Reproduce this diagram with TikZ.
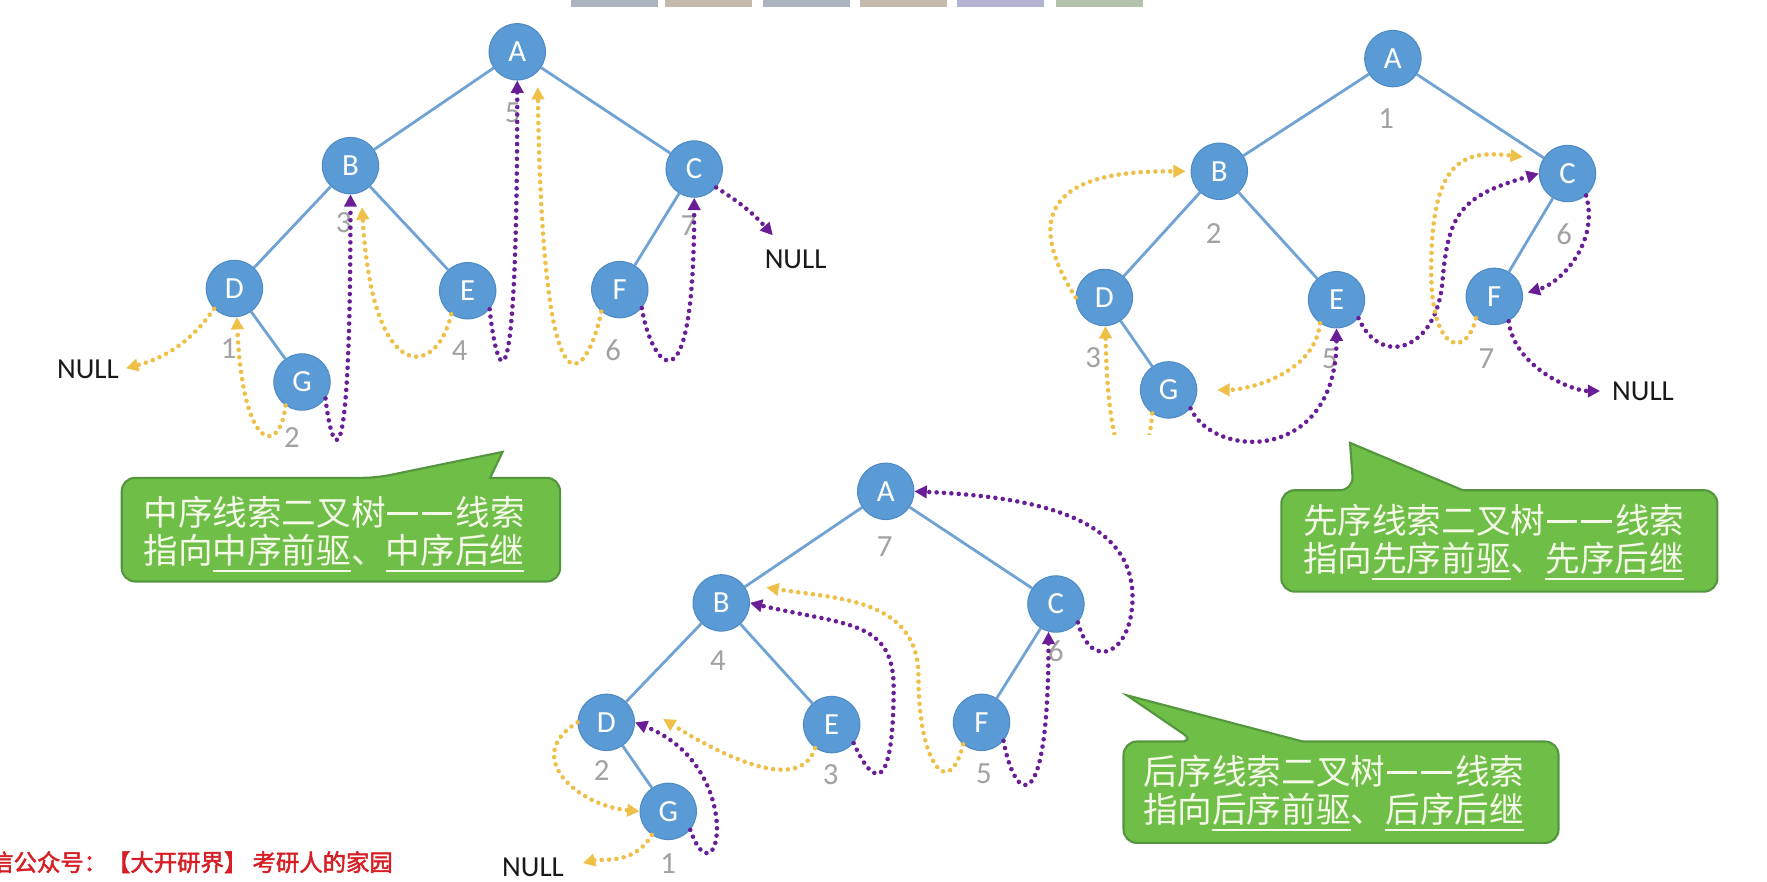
\documentclass[tikz,border=0pt]{standalone}
\usepackage{fontspec}
\setmainfont{Carlito}
\newfontfamily\cjkfont{Noto Sans CJK SC}
\newfontfamily\markfont[FakeBold=2]{Noto Sans CJK SC}
\usetikzlibrary{arrows.meta}

\definecolor{nodeblue}{RGB}{91,155,213}
\definecolor{nodeborder}{RGB}{78,138,198}
\definecolor{edgeblue}{RGB}{112,163,212}
\definecolor{thryellow}{RGB}{238,192,72}
\definecolor{thrpurple}{RGB}{106,30,150}
\definecolor{numgray}{RGB}{162,162,162}
\definecolor{callgreen}{RGB}{110,190,72}
\definecolor{callborder}{RGB}{84,150,62}
\definecolor{calltext}{RGB}{245,250,232}
\definecolor{markred}{RGB}{214,30,36}
\definecolor{tabgray}{RGB}{150,160,175}
\definecolor{tabtan}{RGB}{182,168,150}
\definecolor{tablilac}{RGB}{160,160,200}
\definecolor{tabgreen}{RGB}{160,180,150}

\newsavebox{\ulbox}
\newcommand{\undertext}[1]{%
    \sbox{\ulbox}{#1}\rlap{\rule[-0.24em]{\wd\ulbox}{0.9pt}}\usebox{\ulbox}}
\newcommand{\dashpair}{%
    \hspace{0.04em}\rule[0.3em]{0.88em}{0.09em}\hspace{0.12em}\rule[0.3em]{0.88em}{0.09em}\hspace{0.1em}}

\begin{document}
\begin{tikzpicture}[%
        x = 0.02254cm,
        y = 0.02254cm,
        > = {Triangle[length=7pt, width=7pt]},
        treenode/.style = {circle, fill=nodeblue, draw=nodeborder, line width=0.6pt,
            minimum size=1.127cm, inner sep=0pt, text=white,
            font=\fontsize{17.5}{18}\selectfont},
        treeedge/.style = {edgeblue, line width=1.6pt},
        num/.style = {text=numgray, inner sep=0pt, font=\fontsize{17.5}{18}\selectfont},
        nulltext/.style = {text=black!90, inner sep=1pt, font=\fontsize{16.5}{17}\selectfont},
        thread/.style = {->, line width=2.6pt, line cap=round, dash pattern=on 0pt off 4.2pt},
        pre/.style = {thread, thryellow},
        suc/.style = {thread, thrpurple},
        callout/.style = {fill=callgreen, draw=callborder, line width=1.2pt},
        calltxt/.style = {text=calltext, inner sep=0pt, anchor=base west,
            font=\cjkfont\fontsize{19.7}{21}\selectfont}
    ]

        % Page and the tabs at the top.
        \useasboundingbox (0,0) rectangle (1568,-782);
        \fill[white] (0,0) rectangle (1568,-782);
        \foreach \x/\c in {507/tabgray, 590/tabtan, 677/tabgray, 763/tabtan, 849/tablilac, 937/tabgreen}
            \fill[\c, opacity=0.8] (\x,0) rectangle +(77,-6);

        % In-order tree.
        \node[treenode] (iA) at (459,-46)  {A};
        \node[treenode] (iB) at (311,-147) {B};
        \node[treenode] (iC) at (616,-150) {C};
        \node[treenode] (iD) at (208,-256) {D};
        \node[treenode] (iE) at (415,-258) {E};
        \node[treenode] (iF) at (550,-257) {F};
        \node[treenode] (iG) at (268,-339) {G};
        \foreach \a/\b in {iA/iB, iA/iC, iB/iD, iB/iE, iC/iF, iD/iG}
            \draw[treeedge] (\a) -- (\b);

        \node[num] (iAn) at (455,-100) {5};
        \node[num] (iBn) at (305,-198) {3};
        \node[num] (iCn) at (611,-200) {7};
        \node[num] (iDn) at (203,-309) {1};
        \node[num] (iEn) at (408,-311) {4};
        \node[num] (iFn) at (544,-311) {6};
        \node[num] (iGn) at (259,-388) {2};
        \node[nulltext] (iNL) at (78,-328)  {NULL};
        \node[nulltext] (iNR) at (706,-230) {NULL};

        \draw[pre, shorten >=3pt] (iD.225) to[out=-125, in=15] (iNL.east);
        \draw[pre] (iG.235) .. controls +(-5,-45) and +(5,-120) .. (iD.-85);
        \draw[suc] (iG.-35) .. controls +(5,-45) and +(0,-280) .. (iB.south);
        \draw[pre, shorten >=0.3cm] (iE.235) .. controls +(-12,-55) and +(10,-175) .. (iB.-68);
        \draw[suc] (iE.-40) .. controls +(5,-50) and +(0,-330) .. (iA.south);
        \draw[pre, shorten >=0.3cm] (iF.230) .. controls +(-10,-50) and +(5,-340) .. (iA.-45);
        \draw[suc] (iF.-40) .. controls +(8,-50) and +(0,-200) .. (iC.south);
        \draw[suc] (iC.-40) to[bend left=8] ([shift={(9,11)}]iNR.north west);

        % Pre-order tree.
        \node[treenode] (pA) at (1236,-52)  {A};
        \node[treenode] (pB) at (1082,-152) {B};
        \node[treenode] (pC) at (1391,-154) {C};
        \node[treenode] (pD) at (980,-264)  {D};
        \node[treenode] (pE) at (1186,-266) {E};
        \node[treenode] (pF) at (1326,-263) {F};
        \node[treenode] (pG) at (1037,-346) {G};
        \foreach \a/\b in {pA/pB, pA/pC, pB/pD, pB/pE, pC/pF, pD/pG}
            \draw[treeedge] (\a) -- (\b);

        \node[num] (pAn) at (1230,-105) {1};
        \node[num] (pBn) at (1077,-207) {2};
        \node[num] (pCn) at (1388,-208) {6};
        \node[num] (pDn) at (970,-317)  {3};
        \node[num] (pEn) at (1180,-318) {5};
        \node[num] (pFn) at (1319,-318) {7};
        \node[nulltext] (pN) at (1458,-347) {NULL};

        \coordinate (pECw) at (1280,-250);
        \coordinate (pFCw) at (1270,-240);
        \draw[pre, shorten >=0.1cm] (pD.180) .. controls +(-70,110) and +(-60,0) .. (pB.180);
        \begin{scope}
            \clip (930,-255) rectangle (1060,-386);
            \draw[pre] (pG.235) .. controls +(-4,-60) and +(3,-160) .. (pD.-88);
        \end{scope}
        \draw[suc] (pG.-40) .. controls +(20,-45) and +(0,-120) .. (pE.south);
        \draw[pre, shorten >=0.4cm] (pE.235) .. controls +(-5,-45) and +(45,0) .. (pG.0);
        \draw[suc] (pE.-40) .. controls +(20,-45) and +(-5,-60) .. (pECw)
            .. controls +(5,60) and +(-70,-20) .. (pC.180);
        \draw[pre, shorten >=0.4cm] (pF.230) .. controls +(-8,-35) and +(0,-75) .. (pFCw)
            .. controls +(0,100) and +(-70,8) .. (pC.150);
        \draw[suc, shorten >=0.1cm] (pC.-50) .. controls +(12,-40) and +(35,10) .. (pF.5);
        \draw[suc, shorten >=0.2cm] (pF.-60) .. controls +(5,-40) and +(-35,0) .. (pN.west);

        % Post-order tree.
        \node[treenode] (qA) at (786,-436) {A};
        \node[treenode] (qB) at (640,-535) {B};
        \node[treenode] (qC) at (937,-536) {C};
        \node[treenode] (qD) at (538,-641) {D};
        \node[treenode] (qE) at (738,-643) {E};
        \node[treenode] (qF) at (871,-641) {F};
        \node[treenode] (qG) at (593,-720) {G};
        \foreach \a/\b in {qA/qB, qA/qC, qB/qD, qB/qE, qC/qF, qD/qG}
            \draw[treeedge] (\a) -- (\b);

        \node[num] (qAn) at (785,-485) {7};
        \node[num] (qBn) at (637,-586) {4};
        \node[num] (qCn) at (937,-578) {6};
        \node[num] (qDn) at (534,-684) {2};
        \node[num] (qEn) at (737,-687) {3};
        \node[num] (qFn) at (873,-687) {5};
        \node[num] (qGn) at (593,-766) {1};
        \node[nulltext] (qN) at (473,-770) {NULL};

        \coordinate (qEBw) at (793,-610);
        \coordinate (qFBw) at (815,-600);
        \coordinate (qCAw) at (1005,-530);
        \draw[pre, shorten >=0.35cm] (qG.235) to[out=-120, in=15] (qN.east);
        \draw[pre] (qD.180) .. controls +(-50,-30) and +(-55,5) .. (qG.180);
        \draw[suc] (qG.-40) .. controls +(25,-70) and +(100,-40) .. (qD.0);
        \draw[pre] (qE.235) .. controls +(-15,-45) and +(40,-25) .. ([shift={(25,3)}]qD.east);
        \draw[suc] (qE.-40) .. controls +(25,-55) and +(0,-70) .. (qEBw)
            .. controls +(0,60) and +(85,-20) .. (qB.0);
        \draw[pre] (qF.230) .. controls +(-12,-50) and +(0,-80) .. (qFBw)
            .. controls +(0,70) and +(60,-10) .. ([shift={(18,1)}]qB.30);
        \draw[suc] (qF.-40) .. controls +(10,-55) and +(0,-170) .. (qC.-105);
        \draw[suc] (qC.-40) .. controls +(12,-45) and +(0,-50) .. (qCAw)
            .. controls +(0,70) and +(110,-5) .. (qA.0);

        % Callouts.
        \draw[callout] (334,-424) -- (446,-401) -- (435,-424) [rounded corners=0.27cm]
            -- (497,-424) -- (497,-516) -- (108,-516) -- (108,-424) -- cycle;
        \node[calltxt] (inA) at (127,-466) {中序线索二叉树\dashpair 线索};
        \node[calltxt] (inB) at (127,-500) {指向\undertext{中序前驱}、\undertext{中序后继}};

        \draw[callout] (1201,-435) -- (1198,-393) -- (1298,-435) [rounded corners=0.27cm]
            -- (1524,-435) -- (1524,-525) -- (1137,-525) -- (1137,-435) -- cycle;
        \node[calltxt] (preA) at (1156,-473) {先序线索二叉树\dashpair 线索};
        \node[calltxt] (preB) at (1156,-507) {指向\undertext{先序前驱}、\undertext{先序后继}};

        \draw[callout] (1060,-658) -- (1000,-617) -- (1156,-658) [rounded corners=0.27cm]
            -- (1383,-658) -- (1383,-748) -- (997,-748) -- (997,-658) -- cycle;
        \node[calltxt] (postA) at (1014,-696) {后序线索二叉树\dashpair 线索};
        \node[calltxt] (postB) at (1014,-730) {指向\undertext{后序前驱}、\undertext{后序后继}};

        % Watermark.
        \node[text=markred, inner sep=0pt, anchor=base west, font=\markfont\fontsize{13.3}{14}\selectfont]
            (mark) at (-9,-773) {信公众号：【大开研界】 考研人的家园};
    \end{tikzpicture}
\end{document}
